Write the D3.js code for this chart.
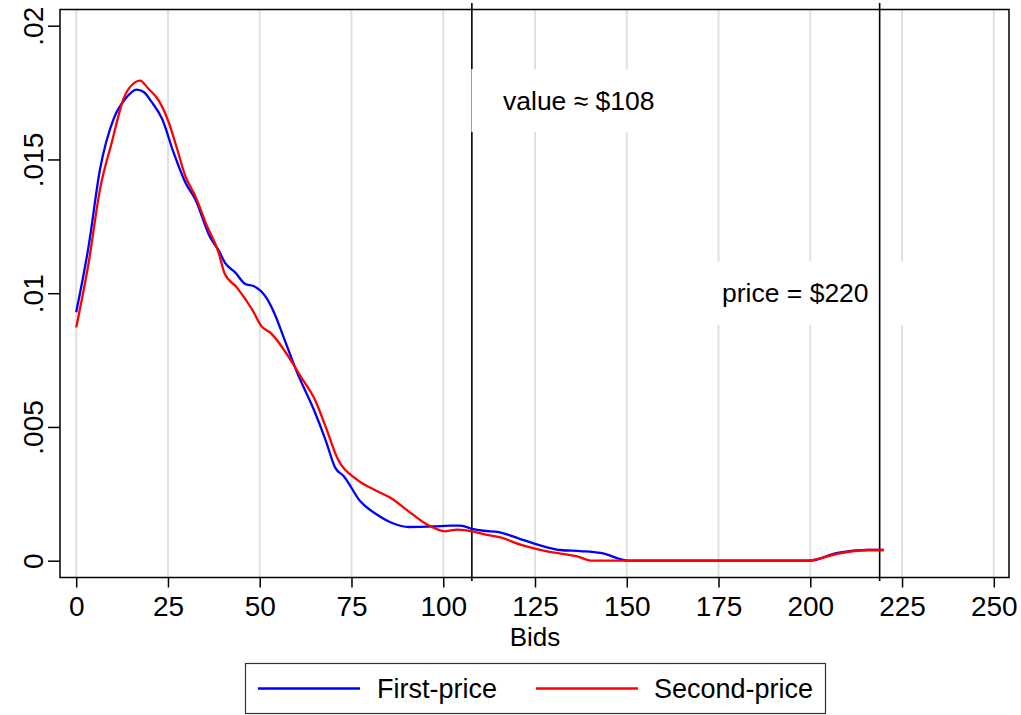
<!DOCTYPE html>
<html>
<head>
<meta charset="utf-8">
<script src="https://cdn.jsdelivr.net/npm/d3@7"></script>
<style>
  html, body { margin: 0; padding: 0; background: #fff; }
  svg { display: block; font-family: "Liberation Sans", Arial, sans-serif; }
</style>
</head>
<body>
<svg id="chart" width="1021" height="715"></svg>
<script>
// ---- data ----
const xTicks = [0, 25, 50, 75, 100, 125, 150, 175, 200, 225, 250];
const yTicks = [0, 0.005, 0.01, 0.015, 0.02];
const yTickLabels = ["0", ".005", ".01", ".015", ".02"];
const xTitle = "Bids";
const seriesNames = ["First-price", "Second-price"];

const firstX = [0, 3.4, 6.5, 10.2, 13.4, 16.5, 18.4, 20.6, 23.4, 26.5, 29.7, 32.4, 36.5, 38.8, 40.6, 43.3, 46.1, 48.3, 51.7, 54.3, 56.5, 60.2, 64.7, 67.9, 70.6, 72.9, 77.4, 82.0, 86.1, 90.6, 97.4, 102, 104.7, 107.9, 111.0, 115.1, 121.0, 128.3, 131.9, 137.4, 142.9, 150.6, 170, 199.7, 207.4, 215.6, 220];
const firstY = [0.00929, 0.01177, 0.01464, 0.01652, 0.01727, 0.01761, 0.01752, 0.01714, 0.01652, 0.01527, 0.01415, 0.01352, 0.01209, 0.01160, 0.01112, 0.01078, 0.01034, 0.01027, 0.00985, 0.00915, 0.00836, 0.00703, 0.00566, 0.00453, 0.00347, 0.00316, 0.00222, 0.00172, 0.00141, 0.00126, 0.00128, 0.00131, 0.00131, 0.00119, 0.00112, 0.00107, 0.00081, 0.0005, 0.0004, 0.00036, 0.00029, 0, 0, 0, 0.00029, 0.0004, 0.0004];

const secondX = [0, 3.4, 6.5, 9.7, 12.9, 16.1, 17.4, 19.7, 22.5, 25.2, 27.5, 29.7, 32.4, 35.6, 38.8, 40.4, 43.8, 47.9, 50.4, 53.1, 58.3, 61.1, 65.2, 67.9, 71.1, 76.5, 81.1, 85.6, 91.1, 95.6, 100.6, 103.8, 107.9, 111.0, 115.6, 121.0, 128.3, 136.5, 140.6, 170, 199.2, 207.4, 215.6, 220];
const secondY = [0.00872, 0.01115, 0.0139, 0.01564, 0.01727, 0.01789, 0.01795, 0.01764, 0.0172, 0.01639, 0.01539, 0.01439, 0.01364, 0.01252, 0.01152, 0.01075, 0.01021, 0.0094, 0.00878, 0.0085, 0.00753, 0.0069, 0.00597, 0.00503, 0.00385, 0.00303, 0.00266, 0.00235, 0.00179, 0.00135, 0.0011, 0.00116, 0.0011, 0.00099, 0.00087, 0.0006, 0.00035, 0.00016, 0, 0, 0, 0.00026, 0.0004, 0.0004];

const refLines = [107.8, 218.9];
const refLabels = ["value \u2248 $108", "price = $220"];
const refLabelY = [0.0172, 0.01];

// ---- layout ----
const svg = d3.select("#chart");
const plot = { left: 60, right: 1009, top: 9.5, bottom: 577.5 };
const x = d3.scaleLinear().domain([0, 250]).range([76.2, 993.8]);
const y = d3.scaleLinear().domain([0, 0.02]).range([560.7, 25.7]);
const axisFont = 28;
const textFont = 26.5;
const legendFont = 27;

// gridlines
svg.append("g").selectAll("line").data(xTicks).join("line")
  .attr("x1", d => x(d)).attr("x2", d => x(d))
  .attr("y1", plot.top).attr("y2", plot.bottom)
  .attr("stroke", "#e0e0e0").attr("stroke-width", 2);

// value reference line (drawn under its label box)
svg.append("line")
  .attr("x1", x(refLines[0])).attr("x2", x(refLines[0]))
  .attr("y1", 3).attr("y2", 581)
  .attr("stroke", "#000").attr("stroke-width", 1.6);

// label boxes
const boxes = [
  { x0: x(refLines[0]) - 0.5, x1: 687, text: refLabels[0], tx: 503, ty: y(refLabelY[0]) },
  { x0: 690, x1: 905, text: refLabels[1], tx: 722, ty: y(refLabelY[1]) }
];
boxes.forEach(b => {
  svg.append("rect")
    .attr("x", b.x0).attr("y", b.ty - 31.5)
    .attr("width", b.x1 - b.x0).attr("height", 63)
    .attr("fill", "#fff");
});
// thin edge where value box meets line
svg.append("line")
  .attr("x1", x(refLines[0]) - 0.5).attr("x2", x(refLines[0]) - 0.5)
  .attr("y1", boxes[0].ty - 31.5).attr("y2", boxes[0].ty + 31.5)
  .attr("stroke", "#999").attr("stroke-width", 0.6);

// price reference line
svg.append("line")
  .attr("x1", x(refLines[1])).attr("x2", x(refLines[1]))
  .attr("y1", 3).attr("y2", 581)
  .attr("stroke", "#000").attr("stroke-width", 1.6);

boxes.forEach(b => {
  svg.append("text")
    .attr("x", b.tx).attr("y", b.ty)
    .attr("dy", "0.35em")
    .attr("font-size", textFont).attr("fill", "#000")
    .text(b.text);
});

// plot frame
svg.append("rect")
  .attr("x", plot.left).attr("y", plot.top)
  .attr("width", plot.right - plot.left).attr("height", plot.bottom - plot.top)
  .attr("fill", "none").attr("stroke", "#000").attr("stroke-width", 1.5);

// curves
const line = d3.line().x(d => x(d[0])).y(d => y(d[1])).curve(d3.curveMonotoneX);
const firstData = firstX.map((v, i) => [v, firstY[i]]);
const secondData = secondX.map((v, i) => [v, secondY[i]]);
svg.append("path").datum(firstData).attr("d", line)
  .attr("fill", "none").attr("stroke", "#0000ff").attr("stroke-width", 2.3)
  .attr("stroke-linejoin", "round");
svg.append("path").datum(secondData).attr("d", line)
  .attr("fill", "none").attr("stroke", "#ff0000").attr("stroke-width", 2.3)
  .attr("stroke-linejoin", "round");

// x axis
const xAxis = svg.append("g").attr("transform", `translate(0,${plot.bottom})`)
  .call(d3.axisBottom(x).tickValues(xTicks).tickSize(10).tickPadding(9).tickFormat(d3.format("d")));
xAxis.select(".domain").remove();
xAxis.selectAll("line").attr("stroke", "#000").attr("stroke-width", 1.5);
xAxis.selectAll("text").attr("font-size", axisFont).attr("font-family", "Liberation Sans, Arial, sans-serif").attr("fill", "#000");

// y axis
const yAxis = svg.append("g").attr("transform", `translate(${plot.left},0)`)
  .call(d3.axisLeft(y).tickValues(yTicks).tickSize(12).tickFormat((d, i) => yTickLabels[i]));
yAxis.select(".domain").remove();
yAxis.selectAll("line").attr("stroke", "#000").attr("stroke-width", 1.5);
yAxis.selectAll("text")
  .attr("font-size", axisFont).attr("font-family", "Liberation Sans, Arial, sans-serif").attr("fill", "#000")
  .attr("text-anchor", "middle")
  .attr("x", null).attr("dy", null)
  .attr("transform", "translate(-17,0) rotate(-90)");

// x title
svg.append("text")
  .attr("x", (x(0) + x(250)) / 2).attr("y", 646)
  .attr("text-anchor", "middle").attr("font-size", 26).attr("fill", "#000")
  .text(xTitle);

// legend
const legend = svg.append("g");
legend.append("rect")
  .attr("x", 245.5).attr("y", 663.5).attr("width", 580).attr("height", 50)
  .attr("fill", "#fff").attr("stroke", "#333").attr("stroke-width", 1.2);
const legendItems = [
  { name: seriesNames[0], color: "#0000ff", lx: 258, tx: 377 },
  { name: seriesNames[1], color: "#ff0000", lx: 536, tx: 654 }
];
legendItems.forEach(it => {
  legend.append("line")
    .attr("x1", it.lx).attr("x2", it.lx + 102).attr("y1", 688.5).attr("y2", 688.5)
    .attr("stroke", it.color).attr("stroke-width", 2.5);
  legend.append("text")
    .attr("x", it.tx).attr("y", 688.5).attr("dy", "0.35em")
    .attr("font-size", legendFont).attr("fill", "#000")
    .text(it.name);
});
</script>
</body>
</html>
